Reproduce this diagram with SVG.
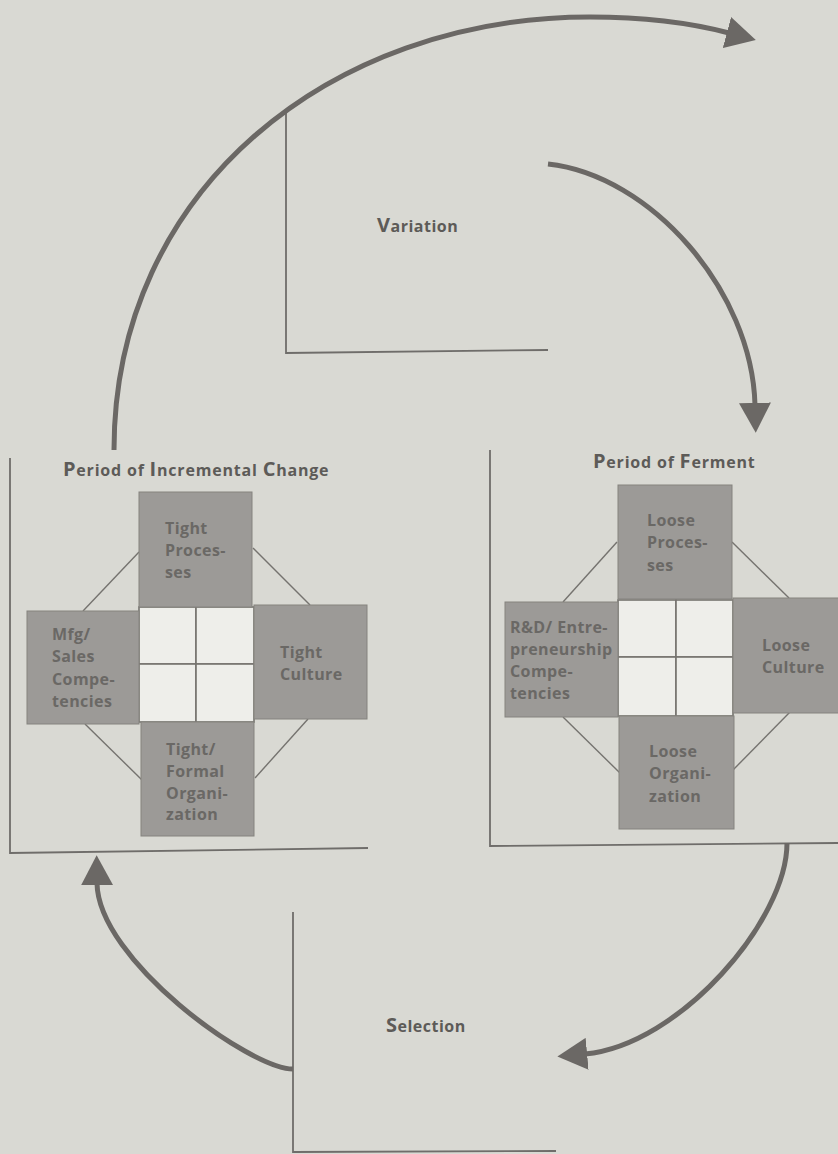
<svg xmlns="http://www.w3.org/2000/svg" width="838" height="1154" viewBox="0 0 838 1154">
  <defs>
    <style>
      .frame { fill: none; stroke: #6f6d6a; stroke-width: 1.8; }
      .link { fill: none; stroke: #75736f; stroke-width: 1.4; }
      .box { fill: #9c9a97; stroke: #85837f; stroke-width: 1; }
      .cell { fill: #eeeeea; stroke: #75736f; stroke-width: 1.6; }
      .flow { fill: none; stroke: #6b6865; stroke-width: 5; }
      .lbl { font-family: "Open Sans", "Liberation Sans", sans-serif; font-weight: bold; font-size: 16px; letter-spacing: 0.4px; fill: #6a6865; }
      .head { font-family: "Open Sans", "Liberation Sans", sans-serif; font-weight: bold; font-size: 16px; letter-spacing: 0.5px; fill: #5d5b58; }
      .title { letter-spacing: 0.8px; }
      .cap { font-size: 20px; }
    </style>
    <marker id="arrow" markerUnits="userSpaceOnUse" markerWidth="32" markerHeight="32" refX="2" refY="15" orient="auto" viewBox="0 0 30 30">
      <path d="M0,0 L28,15 L0,30 z" fill="#6b6865"/>
    </marker>
  </defs>

  <!-- paper -->
  <rect x="0" y="0" width="838" height="1154" fill="#d9d9d3"/>

  <!-- Variation stage -->
  <g id="variation">
    <path class="frame" d="M286,113 L286,353 L548,350"/>
    <text class="head" x="377" y="232"><tspan class="cap">V</tspan>ariation</text>
  </g>

  <!-- Selection stage -->
  <g id="selection">
    <path class="frame" d="M293,912 L293,1152 L556,1151"/>
    <text class="head" x="386" y="1032"><tspan class="cap">S</tspan>election</text>
  </g>

  <!-- Period of Incremental Change -->
  <g id="incremental">
    <path class="frame" d="M10,458 L10,853 L368,848"/>
    <text class="head title" x="63" y="476"><tspan class="cap">P</tspan>eriod of <tspan class="cap">I</tspan>ncremental <tspan class="cap">C</tspan>hange</text>
    <g class="spokes">
      <line class="link" x1="139" y1="552" x2="83" y2="611"/>
      <line class="link" x1="253" y1="548" x2="310" y2="605"/>
      <line class="link" x1="85" y1="724" x2="142" y2="780"/>
      <line class="link" x1="308" y1="719" x2="255" y2="778"/>
    </g>
    <g id="inc-core">
      <rect class="cell" x="139" y="607" width="57" height="57"/>
      <rect class="cell" x="196" y="607" width="58" height="57"/>
      <rect class="cell" x="139" y="664" width="57" height="58"/>
      <rect class="cell" x="196" y="664" width="58" height="58"/>
    </g>
    <g id="inc-processes">
      <rect class="box" x="139" y="492" width="113" height="115"/>
      <text class="lbl" x="165" y="534"><tspan x="165">Tight</tspan><tspan x="165" dy="22">Proces-</tspan><tspan x="165" dy="22">ses</tspan></text>
    </g>
    <g id="inc-competencies">
      <rect class="box" x="27" y="611" width="112" height="113"/>
      <text class="lbl" x="52" y="640"><tspan x="52">Mfg/</tspan><tspan x="52" dy="22">Sales</tspan><tspan x="52" dy="23">Compe-</tspan><tspan x="52" dy="22">tencies</tspan></text>
    </g>
    <g id="inc-culture">
      <rect class="box" x="254" y="605" width="113" height="114"/>
      <text class="lbl" x="280" y="658"><tspan x="280">Tight</tspan><tspan x="280" dy="22">Culture</tspan></text>
    </g>
    <g id="inc-organization">
      <rect class="box" x="141" y="722" width="113" height="114"/>
      <text class="lbl" x="166" y="755"><tspan x="166">Tight/</tspan><tspan x="166" dy="22">Formal</tspan><tspan x="166" dy="22">Organi-</tspan><tspan x="166" dy="21">zation</tspan></text>
    </g>
  </g>

  <!-- Period of Ferment -->
  <g id="ferment">
    <path class="frame" d="M490,450 L490,846 L838,843"/>
    <text class="head title" x="593" y="468"><tspan class="cap">P</tspan>eriod of <tspan class="cap">F</tspan>erment</text>
    <g class="spokes">
      <line class="link" x1="617" y1="542" x2="563" y2="602"/>
      <line class="link" x1="732" y1="542" x2="789" y2="598"/>
      <line class="link" x1="563" y1="717" x2="620" y2="773"/>
      <line class="link" x1="790" y1="712" x2="733" y2="770"/>
    </g>
    <g id="fer-core">
      <rect class="cell" x="618" y="600" width="58" height="57"/>
      <rect class="cell" x="676" y="600" width="57" height="57"/>
      <rect class="cell" x="618" y="657" width="58" height="59"/>
      <rect class="cell" x="676" y="657" width="57" height="59"/>
    </g>
    <g id="fer-processes">
      <rect class="box" x="618" y="485" width="114" height="114"/>
      <text class="lbl" x="647" y="526"><tspan x="647">Loose</tspan><tspan x="647" dy="22">Proces-</tspan><tspan x="647" dy="23">ses</tspan></text>
    </g>
    <g id="fer-competencies">
      <rect class="box" x="505" y="602" width="113" height="115"/>
      <text class="lbl" x="510" y="633"><tspan x="510">R&amp;D/ Entre-</tspan><tspan x="510" dy="22">preneurship</tspan><tspan x="510" dy="22">Compe-</tspan><tspan x="510" dy="22">tencies</tspan></text>
    </g>
    <g id="fer-culture">
      <rect class="box" x="733" y="598" width="110" height="115"/>
      <text class="lbl" x="762" y="651"><tspan x="762">Loose</tspan><tspan x="762" dy="22">Culture</tspan></text>
    </g>
    <g id="fer-organization">
      <rect class="box" x="619" y="716" width="115" height="113"/>
      <text class="lbl" x="649" y="757"><tspan x="649">Loose</tspan><tspan x="649" dy="22">Organi-</tspan><tspan x="649" dy="23">zation</tspan></text>
    </g>
  </g>

  <!-- cycle arrows -->
  <g id="connectors">
    <path class="flow" marker-end="url(#arrow)" d="M114,450 C114,190 330,17 590,17 C650,17 695,24 729,33"/>
    <path class="flow" marker-end="url(#arrow)" d="M548,164 C650,175 752,290 755,405"/>
    <path class="flow" marker-end="url(#arrow)" d="M787,843 C787,920 680,1045 585,1054"/>
    <path class="flow" marker-end="url(#arrow)" d="M293,1069 C250,1069 98,960 97,883"/>
  </g>
</svg>
